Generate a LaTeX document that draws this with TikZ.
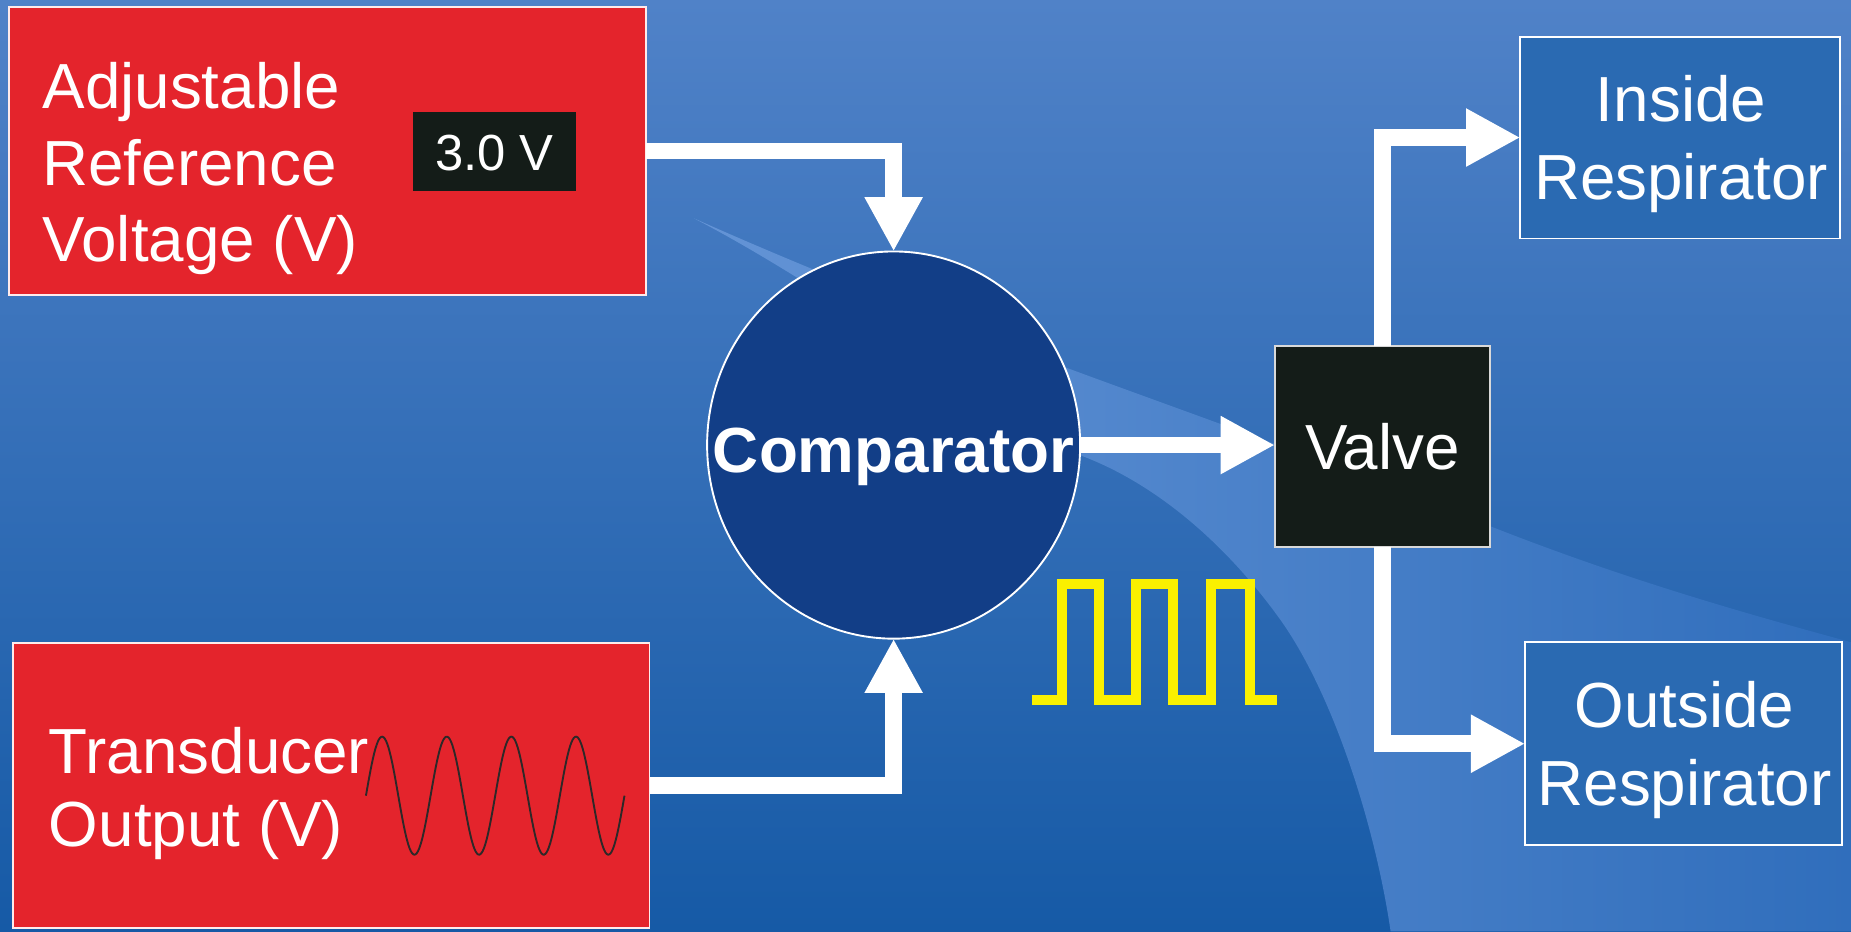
\documentclass[tikz,border=0pt]{standalone}
\usepackage{fontspec}
\setmainfont{Liberation Sans}
\usetikzlibrary{arrows.meta,shapes.geometric}
\definecolor{bgtop}{RGB}{80,130,200}
\definecolor{bgbot}{RGB}{22,90,166}
\definecolor{swl}{RGB}{100,148,214}
\definecolor{swr}{RGB}{48,110,188}
\definecolor{redbox}{RGB}{228,36,44}
\definecolor{compblue}{RGB}{18,62,135}
\definecolor{valveblk}{RGB}{20,28,24}
\definecolor{respblue}{RGB}{42,106,178}
\definecolor{wave}{RGB}{250,240,0}
\definecolor{sinec}{RGB}{45,40,40}
\begin{document}
\begin{tikzpicture}[x=0.5pt,y=-0.5pt,
  every node/.style={inner sep=0pt, outer sep=0pt},
  redstyle/.style={rectangle, fill=redbox, draw=white!92!red, line width=0.8pt},
  bluestyle/.style={rectangle, fill=respblue, draw=white, line width=0.8pt},
  bigtext/.style={text=white, font=\fontsize{27}{32.5}\selectfont},
  flow/.style={draw=white, line width=7pt, line join=miter, -{Triangle[length=23pt,width=23pt]}}]
\useasboundingbox (0,0) rectangle (1568,789);
% background
\shade[top color=bgtop, bottom color=bgbot] (0,0) rectangle (1568,789);
% swoosh
\shade[left color=swl, right color=swr]
  (588,185) .. controls (700,235) and (830,285) .. (902,311)
  .. controls (980,340) and (1150,400) .. (1263,446)
  .. controls (1380,492) and (1480,520) .. (1568,544)
  -- (1568,789) -- (1178,789)
  .. controls (1165,700) and (1130,590) .. (1086,527)
  .. controls (1040,462) and (980,410) .. (916,386)
  .. controls (800,320) and (690,238) .. (588,185) -- cycle;
% boxes
\node[redstyle, minimum width=539*0.5pt, minimum height=244*0.5pt] (ref) at (277.5,128) {};
\node[bigtext, anchor=west, align=left] (reftxt) at (36,142.8) {Adjustable\\Reference\\Voltage (V)};
\node[fill=valveblk, minimum width=138*0.5pt, minimum height=67*0.5pt, text=white,
  font=\fontsize{21.5}{25}\selectfont, text height=15.5pt, text depth=0pt] (volt) at (419,128.5) {3.0 V};
\node[redstyle, minimum width=539*0.5pt, minimum height=241*0.5pt] (trans) at (280.7,665.4) {};
\node[bigtext, anchor=west, align=left, font=\fontsize{27}{31}\selectfont] (transtxt) at (41.5,672.3) {Transducer\\Output (V)};
\draw[sinec, line width=0.8pt] plot[domain=310:529, samples=220, smooth] (\x, {674-50*sin(6.5753*(\x-310))});
\node[ellipse, fill=compblue, draw=white, line width=0.8pt, minimum width=316*0.5pt, minimum height=328*0.5pt] (comp) at (757,377) {};
\node[text=white, font=\fontsize{27}{32}\selectfont\bfseries, text height=23pt, text depth=0pt] (comptxt) at (comp.center) {Comparator};
\node[rectangle, fill=valveblk, draw=white!85!black, line width=0.8pt, minimum width=182*0.5pt, minimum height=170*0.5pt,
  text=white, font=\fontsize{27}{32}\selectfont, text height=20pt, text depth=0pt] (valve) at (1171,378) {Valve};
\node[bluestyle, minimum width=271*0.5pt, minimum height=171*0.5pt] (inside) at (1423.4,116.5) {};
\node[bigtext, align=center, font=\fontsize{27}{32.75}\selectfont] (insidetxt) at (1424,122) {Inside\\Respirator};
\node[bluestyle, minimum width=268*0.5pt, minimum height=172*0.5pt] (outside) at (1426,630) {};
\node[bigtext, align=center, font=\fontsize{27}{33}\selectfont] (outsidetxt) at (1427,635.3) {Outside\\Respirator};
% square wave
\draw[wave, line width=4.25pt, line join=miter]
  (874,593) -- (900,593) -- (900,495) -- (931,495) -- (931,593) -- (962,593) -- (962,495)
  -- (994,495) -- (994,593) -- (1026,593) -- (1026,495) -- (1058.5,495) -- (1058.5,593) -- (1082,593);
% connectors
\draw[flow] (ref.east) -| (comp.north);
\draw[flow] (trans.east) -| (comp.south);
\draw[flow] (comp.east) -- (comp.east -| valve.west);
\draw[flow] (valve.north) |- (inside.west);
\draw[flow] (valve.south) |- (outside.west);
\end{tikzpicture}
\end{document}
